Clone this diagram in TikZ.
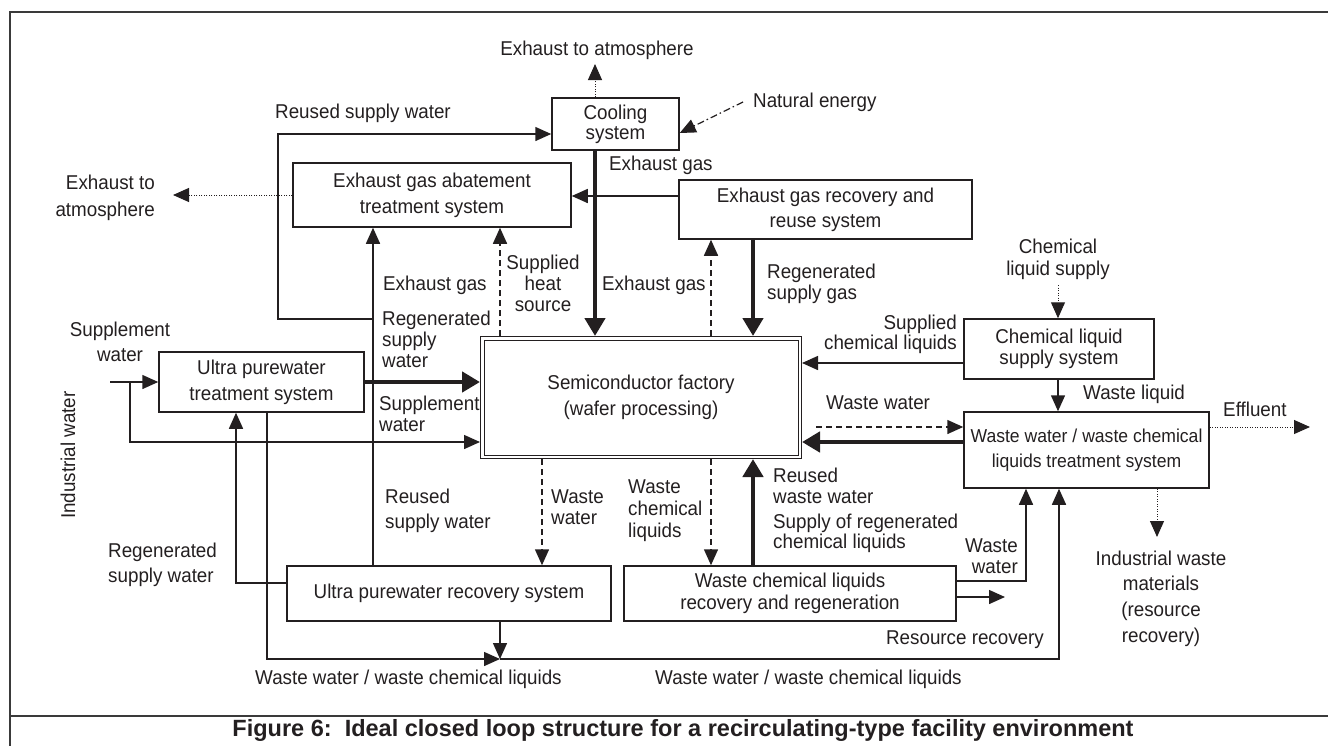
\documentclass[tikz,border=0pt]{standalone}
\usepackage{fontspec}
\setmainfont{Liberation Sans}[FakeStretch=0.94]
\newfontfamily\capfont{Liberation Sans}
\usetikzlibrary{arrows.meta,calc}
\definecolor{ink}{HTML}{231F20}
\definecolor{framecol}{HTML}{3A3A3A}
\tikzset{
  bs/.style={font=\fontsize{20}{#1}\selectfont},
  box/.style={draw=ink, line width=1.5pt, align=center, inner sep=0pt, text=ink, bs=25},
  lbl/.style={inner sep=0pt, text=ink, bs=21},
  tipS/.style={-{Triangle[length=16pt,width=14pt]}},
  tipL/.style={-{Triangle[length=18pt,width=20pt]}},
  thin1/.style={draw=ink, line width=1.5pt},
  thk/.style={draw=ink, line width=4.5pt},
  dsh/.style={draw=ink, line width=1.5pt, dash pattern=on 6pt off 4pt},
  dotln/.style={draw=ink, line width=1pt, dash pattern=on 1pt off 1.5pt},
  dashdotln/.style={draw=ink, line width=1.2pt, dash pattern=on 7pt off 3pt on 1.5pt off 3pt},
}
\begin{document}
\begin{tikzpicture}[x=1pt,y=-1pt]
\useasboundingbox (0,0) rectangle (1328,745);
% frame
\draw[framecol, line width=2.5pt] (10,760) -- (10,12) -- (1340,12);
\draw[framecol, line width=2.5pt] (10,716) -- (1340,716);

% boxes
\node[box, bs=20, minimum width=127pt, minimum height=52pt] (cool) at (615.5,124) {Cooling\\system};
\node[box, bs=26, minimum width=278pt, minimum height=64pt] (abate) at (432,195) {Exhaust gas abatement\\treatment system};
\node[box, minimum width=293pt, minimum height=59pt] (egr) at (825.5,209.5) {Exhaust gas recovery and\\reuse system};
\node[draw=ink, double, double distance=2.5pt, line width=1pt, outer sep=2.25pt, align=center, inner sep=0pt, text=ink, bs=26,
      minimum width=317.5pt, minimum height=118.5pt] (factory) at (641,397.5) {Semiconductor factory\\(wafer processing)};
\node[box, bs=26, minimum width=205pt, minimum height=60pt] (upt) at (261.5,382) {Ultra purewater\\treatment system};
\node[box, bs=21, minimum width=190pt, minimum height=60pt] (cls) at (1059,349) {Chemical liquid\\supply system};
\node[box, font=\fontsize{18.7}{25}\selectfont, minimum width=245pt, minimum height=76pt] (wwt) at (1086.5,450) {Waste water / waste chemical\\liquids treatment system};
\node[box, minimum width=324pt, minimum height=55pt] (upr) at (449,593.5) {Ultra purewater recovery system};
\node[box, bs=22, minimum width=332pt, minimum height=55pt] (wcr) at (790,593.5) {Waste chemical liquids\\recovery and regeneration};

% coordinates
\coordinate (atmTip) at (595,64);
\coordinate (xA) at (595,0);
\coordinate (xB) at (500,0);
\coordinate (xC) at (373,0);
\coordinate (xD) at (711,0);
\coordinate (xE) at (753,0);
\coordinate (xF) at (542,0);
\coordinate (xH) at (236,0);
\coordinate (xI) at (267,0);
\coordinate (xK) at (1058,0);
\coordinate (xL) at (1026,0);
\coordinate (xM) at (1059,0);
\coordinate (y2) at (0,196);
\coordinate (y4) at (0,442);
\coordinate (y5) at (0,363);
\coordinate (y6) at (0,427);
\coordinate (y7) at (0,583);
\coordinate (y8) at (0,659);
\coordinate (y9) at (0,581);
\coordinate (rsJ) at (373,319);
\coordinate (rsL) at (278,319);
\coordinate (rsT) at (278,134);
\coordinate (atmL) at (173,195);
\coordinate (swS) at (110,382);
\coordinate (swB) at (130,382);
\coordinate (swD) at (130,442);
\coordinate (mid) at (500,659);
\coordinate (resT) at (1005,597);
\coordinate (iwT) at (1157,537);
\coordinate (clsTop) at (1058,285);
\coordinate (effT) at (1310,427);

% labels
\node[lbl] (atm1) at (597,50) {Exhaust to atmosphere};
\node[lbl, anchor=west] (natl) at (753,102) {Natural energy};
\node[lbl, anchor=west] (rsw1) at (275,113) {Reused supply water};
\node[lbl, bs=27, align=right, anchor=east] (atm2) at (155,198) {Exhaust to\\atmosphere};
\node[lbl, anchor=west] (eg1) at (609,165) {Exhaust gas};
\node[lbl, anchor=west] (eg2) at (383,285) {Exhaust gas};
\node[lbl, align=center] (shs) at (543,283) {Supplied\\heat\\source};
\node[lbl, anchor=west] (eg3) at (602,285) {Exhaust gas};
\node[lbl, align=left, anchor=west] (rsg) at (767,283.5) {Regenerated\\supply gas};
\node[lbl, align=left, anchor=west] (rsw2) at (382,339) {Regenerated\\supply\\water};
\node[lbl, align=left, anchor=west] (sw2) at (379,413.5) {Supplement\\water};
\node[lbl, bs=25, align=center] (sw1) at (120,342) {Supplement\\water};
\node[lbl, rotate=90] (indw) at (68,455) {Industrial water};
\node[lbl, bs=22, align=center] (cls0) at (1058,259) {Chemical\\liquid supply};
\node[lbl, bs=19.5, align=right, anchor=east] (scl) at (957,334.5) {Supplied\\chemical liquids};
\node[lbl, anchor=west] (wl) at (1083,394) {Waste liquid};
\node[lbl, anchor=west] (ww1) at (826,403) {Waste water};
\node[lbl, anchor=west] (eff) at (1223,409) {Effluent};
\node[lbl, align=left, anchor=west] (rww) at (773,485.5) {Reused\\waste water};
\node[lbl, bs=20, align=left, anchor=west] (sorc) at (773,533) {Supply of regenerated\\chemical liquids};
\node[lbl, bs=25, align=left, anchor=west] (rsw3) at (385,510.5) {Reused\\supply water};
\node[lbl, align=left, anchor=west] (ww2) at (551,507.5) {Waste\\water};
\node[lbl, bs=22, align=left, anchor=west] (wcl) at (628,511) {Waste\\chemical\\liquids};
\node[lbl, bs=25, align=left, anchor=west] (rsw4) at (108,564.5) {Regenerated\\supply water};
\node[lbl, align=right, anchor=east] (ww3) at (1018,556.5) {Waste\\water};
\node[lbl] (resrec) at (965,640) {Resource recovery};
\node[lbl, bs=25.7, align=center] (iwm) at (1161,598.5) {Industrial waste\\materials\\(resource\\recovery)};
\node[lbl, anchor=west] (wwc1) at (255,679) {Waste water / waste chemical liquids};
\node[lbl, anchor=west] (wwc2) at (655,679) {Waste water / waste chemical liquids};
\node[inner sep=0pt, text=ink, font=\capfont\bfseries\fontsize{23.5}{26}\selectfont] (cap) at (683,730)
  {Figure 6:\ \ Ideal closed loop structure for a recirculating-type facility environment};

% connectors
\draw[dotln, tipS] (cool.north -| atmTip) -- (atmTip);
\draw[dashdotln, tipS] ([xshift=-10pt]natl.west) -- ([yshift=-9pt]cool.east);
\draw[thin1, tipS] (rsJ) -- (rsL) -- (rsT) -- (cool.west |- rsT);
\draw[thin1, tipS] (upr.north -| xC) -- (abate.south -| xC);
\draw[dsh, tipS] (factory.north -| xB) -- (abate.south -| xB);
\draw[thk, tipL] (cool.south -| xA) -- (factory.north -| xA);
\draw[thin1, tipS] (egr.west |- y2) -- (abate.east |- y2);
\draw[dsh, tipS] (factory.north -| xD) -- (egr.south -| xD);
\draw[thk, tipL] (egr.south -| xE) -- (factory.north -| xE);
\draw[dotln, tipS] (abate.west) -- (atmL);
\draw[thin1, tipS] (swS) -- (upt.west);
\draw[thin1, tipS] (swB) -- (swD) -- (factory.west |- swD);
\draw[thk, tipL] (upt.east) -- (factory.west |- upt.east);
\draw[thin1, tipS] (upr.west |- y7) -- (xH |- y7) -- (upt.south -| xH);
\draw[thin1, tipS] (upt.south -| xI) -- (xI |- y8) -- (mid);
\draw[thin1, tipS] (mid) -- (xM |- y8) -- (wwt.south -| xM);
\draw[thin1, tipS] (upr.south -| mid) -- (mid);
\draw[dsh, tipS] (factory.south -| xF) -- (upr.north -| xF);
\draw[dsh, tipS] (factory.south -| xD) -- (wcr.north -| xD);
\draw[thk, tipL] (wcr.north -| xE) -- (factory.south -| xE);
\draw[thin1, tipS] (wcr.east |- y9) -- (xL |- y9) -- (wwt.south -| xL);
\draw[thin1, tipS] (wcr.east |- resT) -- (resT);
\draw[dotln, tipS] (wwt.south -| iwT) -- (iwT);
\draw[dotln, tipS] (clsTop) -- (cls.north -| clsTop);
\draw[thin1, tipS] (cls.west |- y5) -- (factory.east |- y5);
\draw[thin1, tipS] (cls.south -| xK) -- (wwt.north -| xK);
\draw[dsh, tipS, shorten <=14pt] (factory.east |- y6) -- (wwt.west |- y6);
\draw[thk, tipL] (wwt.west |- y4) -- (factory.east |- y4);
\draw[dotln, tipS] (wwt.east |- effT) -- (effT);
\end{tikzpicture}
\end{document}
